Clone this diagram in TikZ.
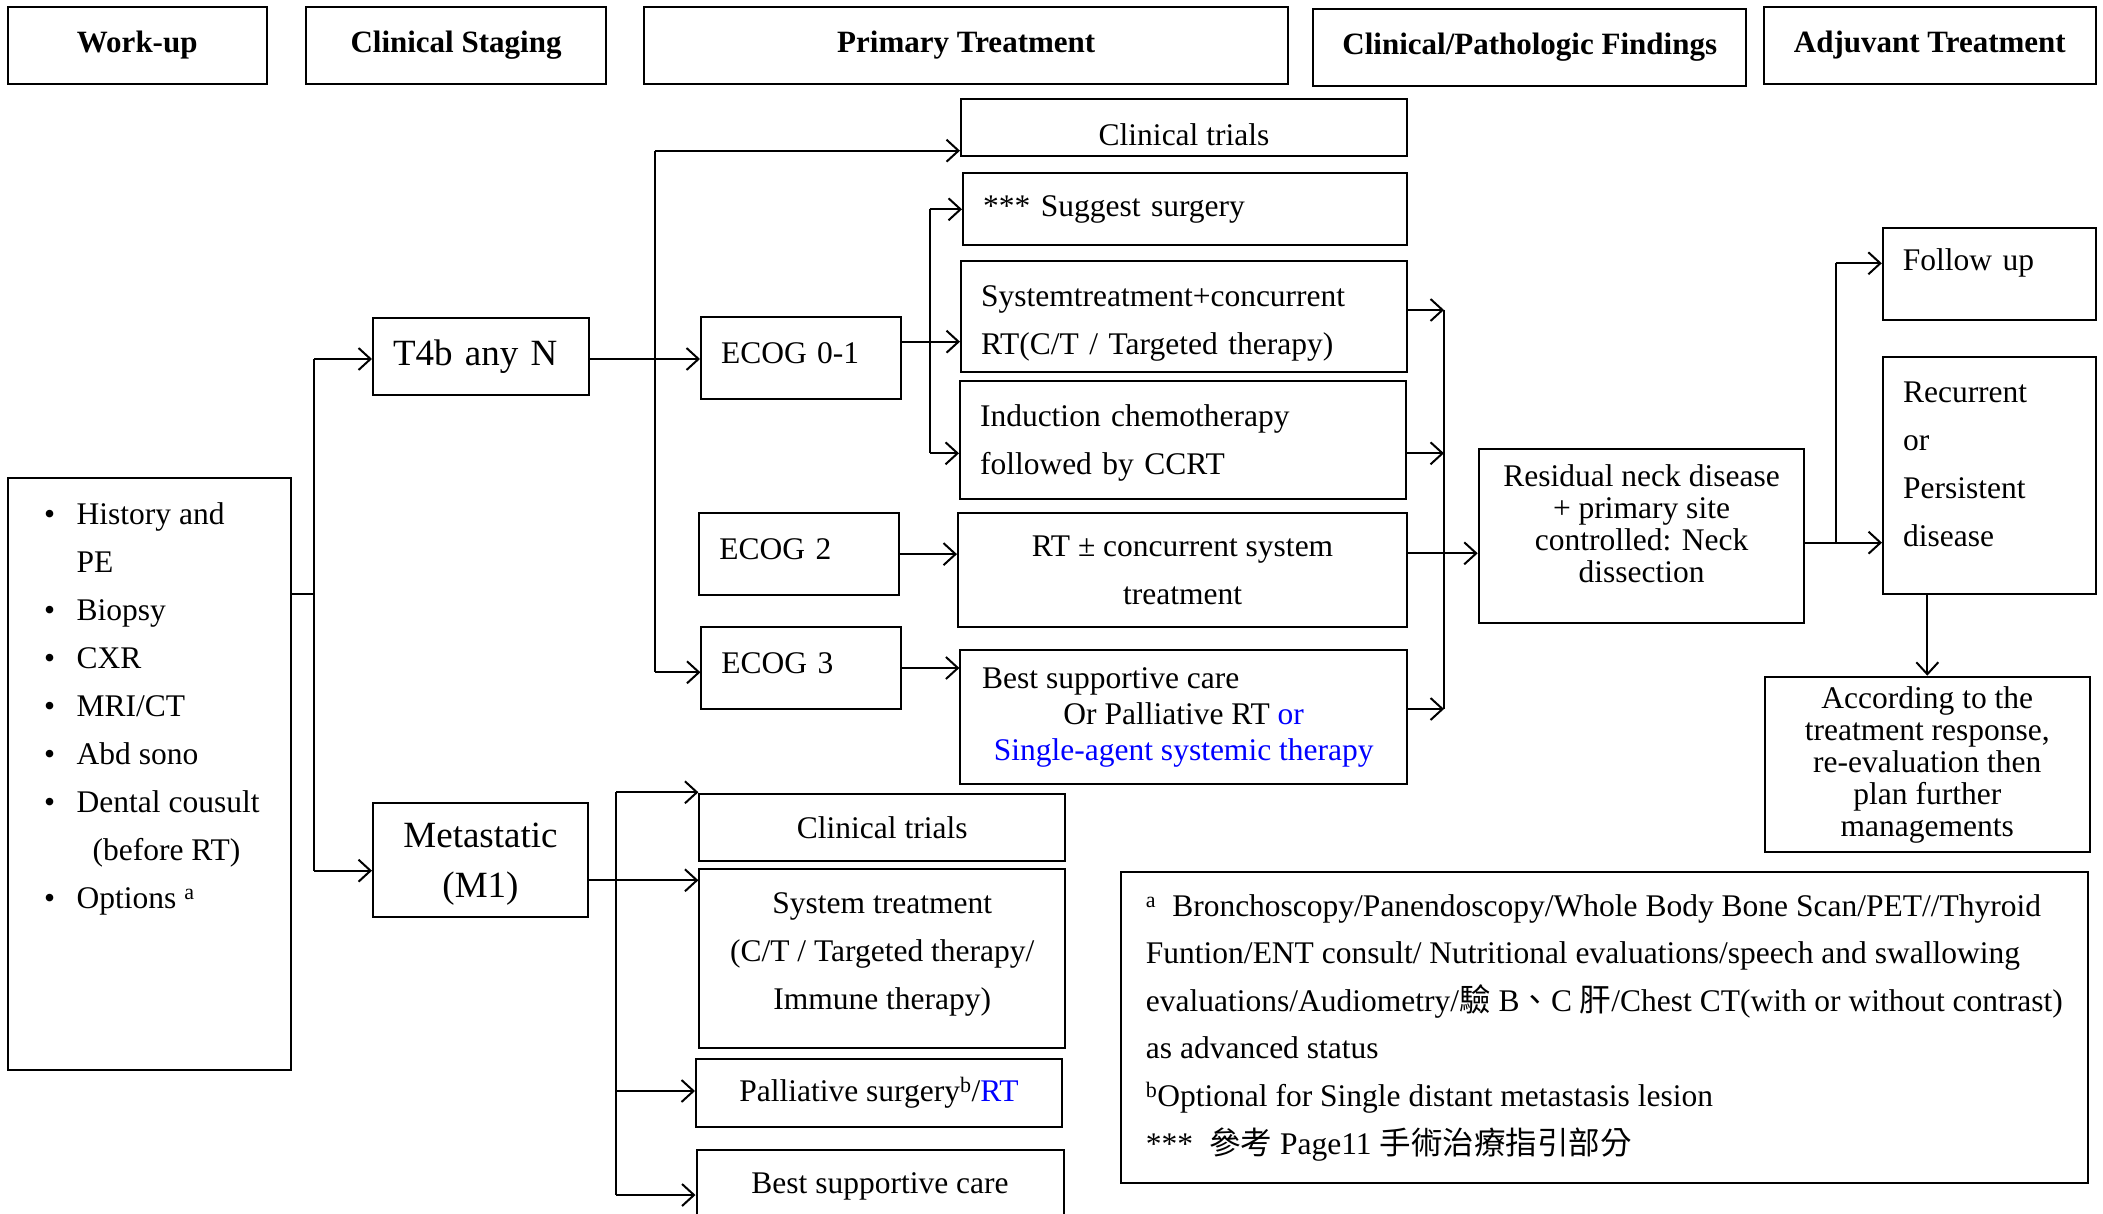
\documentclass[tikz,border=0pt]{standalone}
\usepackage{fontspec}
\setmainfont{Liberation Serif}
\newfontfamily\cjk{Noto Sans CJK TC}
\usetikzlibrary{arrows.meta}

\begin{document}
\begin{tikzpicture}[x=1pt,y=-1pt,
	box/.style={draw,line width=2pt,inner sep=0pt,font=\fontsize{31.5}{48}\selectfont},
	head/.style={box,font=\fontsize{31}{37}\selectfont\bfseries},
	leftbox/.style={box,align=left,inner xsep=20pt},
	wire/.style={line width=2pt},
	arr/.style={line width=2pt,-{Straight Barb[length=12pt,width=22pt]}}]

\useasboundingbox (0,0) rectangle (2103,1214);

% column heads
\node[head,minimum width=258.5pt,minimum height=77.3pt] (hwork) at (137.25,45.35) {Work-up};
\node[head,minimum width=300pt,minimum height=77.3pt] (hstage) at (456,45.35) {Clinical Staging};
\node[head,minimum width=644.4pt,minimum height=77.3pt] (hprim) at (966.2,45.35) {Primary Treatment};
\node[head,minimum width=433.4pt,minimum height=76.7pt] (hfind) at (1529.7,47.65) {Clinical/Pathologic Findings};
\node[head,minimum width=331.7pt,minimum height=77.3pt] (hadj) at (1929.85,45.35) {Adjuvant Treatment};

% work-up
\node[box,minimum width=282.6pt,minimum height=592pt] (wu) at (149.7,773.7) {};
\node[anchor=north west,align=left,inner sep=0pt,font=\fontsize{31.5}{48}\selectfont] (wulist) at (44,502) {%
	\makebox[32.5pt][l]{•}History and\\
	\makebox[32.5pt]{}PE\\
	\makebox[32.5pt][l]{•}Biopsy\\
	\makebox[32.5pt][l]{•}CXR\\
	\makebox[32.5pt][l]{•}MRI/CT\\
	\makebox[32.5pt][l]{•}Abd sono\\
	\makebox[32.5pt][l]{•}Dental cousult\\
	\makebox[48.5pt]{}(before RT)\\
	\makebox[32.5pt][l]{•}Options \textsuperscript{a}};

% staging
\node[leftbox,font=\fontsize{37}{44}\selectfont,text width=175.6pt,minimum height=77pt] (t4b) at (480.8,356.5) {T4b any N};
\node[box,align=center,font=\fontsize{37}{50}\selectfont,text depth=-5pt,minimum width=215pt,minimum height=113.7pt] (m1) at (480.5,860.15) {Metastatic\\(M1)};

\node[leftbox,text depth=10pt,text width=160.4pt,minimum height=82pt] (ecoga) at (801.2,358) {ECOG 0-1};
\node[leftbox,text depth=10pt,text width=160pt,minimum height=81.7pt] (ecogb) at (799.35,554.15) {ECOG 2};
\node[leftbox,text depth=10pt,text width=160pt,minimum height=81.4pt] (ecogc) at (801.45,668) {ECOG 3};

% primary treatment
\node[box,text height=36pt,text depth=0pt,minimum width=446pt,minimum height=56.7pt] (ct1) at (1184,127.35) {Clinical trials};
\node[leftbox,text width=404pt,minimum height=71.3pt] (sug) at (1185,209) {*** Suggest surgery};
\node[leftbox,text height=36pt,text width=406pt,minimum height=110.7pt] (sys) at (1184,316.35) {Systemtreatment+concurrent\\RT(C/T / Targeted therapy)};
\node[leftbox,text height=28pt,text width=406pt,minimum height=118.3pt] (ind) at (1183,440.15) {Induction chemotherapy\\followed by CCRT};
\node[box,align=center,minimum width=449pt,minimum height=113.4pt] (rt) at (1182.5,570) {RT ± concurrent system\\treatment};
\node[box,align=center,font=\fontsize{31.5}{36}\selectfont,minimum width=446.6pt,minimum height=134.3pt] (bsc) at (1183.7,717.15) {Best supportive care\hspace*{146pt}\\Or Palliative RT \textcolor{blue}{or}\\\textcolor{blue}{Single-agent systemic therapy}};

\node[box,minimum width=365.6pt,minimum height=67pt] (ct2) at (882.2,827.5) {Clinical trials};
\node[box,align=center,text depth=14pt,minimum width=365.6pt,minimum height=178.4pt] (syt) at (882.2,958.5) {System treatment\\(C/T / Targeted therapy/\\Immune therapy)};
\node[box,minimum width=366pt,minimum height=68pt] (pal) at (879,1092.7) {Palliative surgery\textsuperscript{b}/\textcolor{blue}{RT}};
\node[box,minimum width=367pt,minimum height=72pt] (bsc2) at (880,1186) {Best supportive care};

% findings and adjuvant
\node[box,align=center,font=\fontsize{31.5}{32}\selectfont,text depth=24pt,minimum width=325.6pt,minimum height=173.4pt] (res) at (1641.5,536) {Residual neck disease\\+ primary site\\controlled: Neck\\dissection};
\node[leftbox,text depth=29pt,text width=172.9pt,minimum height=92.3pt] (fol) at (1989.25,273.85) {Follow up};
\node[leftbox,text depth=166pt,text width=172.7pt,minimum height=237.6pt] (rec) at (1989.35,475.5) {Recurrent\\or\\Persistent\\disease};
\node[box,align=center,font=\fontsize{31.5}{32}\selectfont,minimum width=325.4pt,minimum height=175.6pt] (acc) at (1927.3,764.5) {According to the\\treatment response,\\re-evaluation then\\plan further\\managements};

% footnotes
\node[box,align=left,font=\fontsize{31.5}{47.6}\selectfont,minimum width=967.8pt,minimum height=311.6pt] (note) at (1604.4,1027.5) {%
	\textsuperscript{a}\hspace{16pt}Bronchoscopy/Panendoscopy/Whole Body Bone Scan/PET//Thyroid\\
	Funtion/ENT consult/ Nutritional evaluations/speech and swallowing\\
	evaluations/Audiometry/{\cjk 驗} B{\cjk 、}C {\cjk 肝}/Chest CT(with or without contrast)\\
	as advanced status\\
	\textsuperscript{b}Optional for Single distant metastasis lesion\\
	{}***\hspace{16pt}{\cjk 參考} Page11 {\cjk 手術治療指引部分}};

% junctions
\coordinate (c1) at (314,359);
\coordinate (c0) at (314,594);
\coordinate (c2) at (314,870.7);
\coordinate (a1) at (655,150.7);
\coordinate (a2) at (655,672.3);
\coordinate (b1) at (929.5,209.3);
\coordinate (b0) at (929.5,341.7);
\coordinate (b2) at (929.5,453.3);
\coordinate (r1) at (1444,310);
\coordinate (r0) at (1444,553.3);
\coordinate (r2) at (1444,453.3);
\coordinate (r3) at (1444,709);
\coordinate (d1) at (1835.6,263.3);
\coordinate (d2) at (1835.6,542.7);
\coordinate (k1) at (616,792.3);
\coordinate (k2) at (616,880.3);
\coordinate (k3) at (616,1091);
\coordinate (k4) at (616,1195);

% connectors
\draw[wire] (wu.east |- c0) -- (c0);
\draw[wire] (c1) -- (c2);
\draw[arr] (c1) -- (t4b.west |- c1);
\draw[arr] (c2) -- (m1.west |- c2);

\draw[wire] (a1) -- (a2);
\draw[arr] (t4b.east |- c1) -- (ecoga.west |- c1);
\draw[arr] (a1) -- (ct1.west |- a1);
\draw[arr] (a2) -- (ecogc.west |- a2);

\draw[wire] (b1) -- (b2);
\draw[arr] (ecoga.east |- b0) -- (sys.west |- b0);
\draw[arr] (b1) -- (sug.west |- b1);
\draw[arr] (b2) -- (ind.west |- b2);
\draw[arr] (ecogb.east) -- (ecogb.east -| rt.west);
\draw[arr] (ecogc.east) -- (ecogc.east -| bsc.west);

\draw[wire] (r1) -- (r3);
\draw[arr] (sys.east |- r1) -- (r1);
\draw[arr] (ind.east |- r2) -- (r2);
\draw[arr] (bsc.east |- r3) -- (r3);
\draw[arr] (rt.east |- r0) -- (res.west |- r0);

\draw[wire] (d1) -- (d2);
\draw[arr] (d1) -- (fol.west |- d1);
\draw[arr] (res.east |- d2) -- (rec.west |- d2);
\draw[arr] (rec.south -| acc.north) -- (acc.north);

\draw[wire] (k1) -- (k4);
\draw[arr] (k1) -- (ct2.west |- k1);
\draw[arr] (m1.east |- k2) -- (syt.west |- k2);
\draw[arr] (k3) -- (pal.west |- k3);
\draw[arr] (k4) -- (bsc2.west |- k4);

\end{tikzpicture}
\end{document}
